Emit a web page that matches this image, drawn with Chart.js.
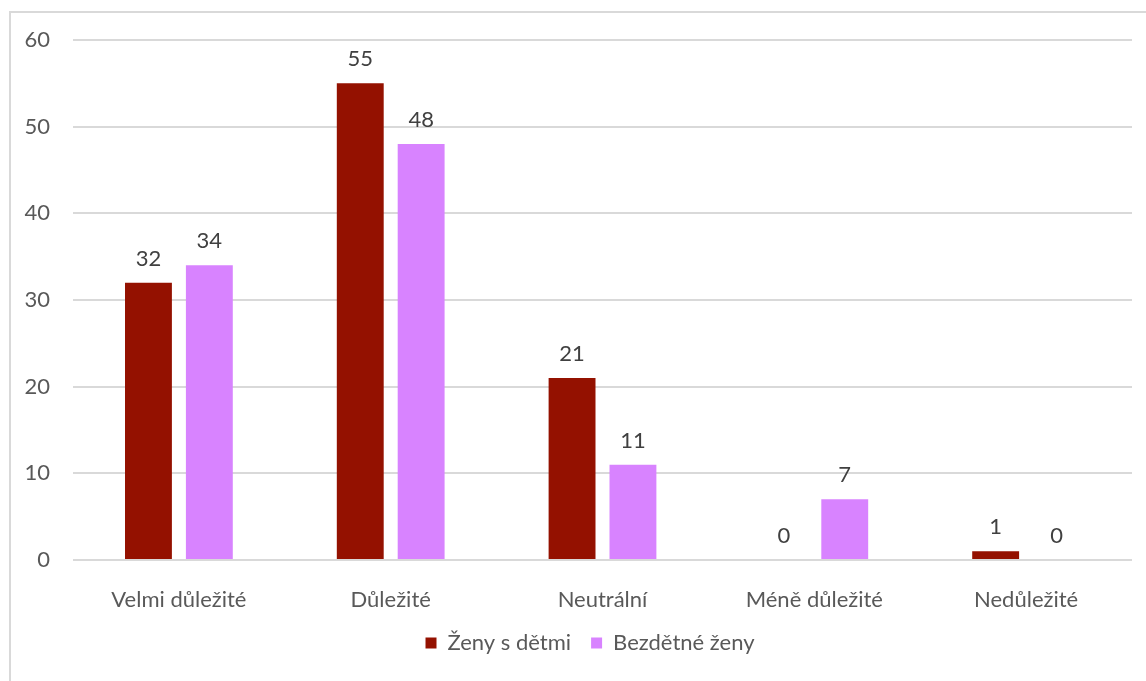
<!DOCTYPE html>
<html>
<head>
<meta charset="utf-8">
<script src="https://cdn.jsdelivr.net/npm/chart.js@4"></script>
<style>
  html, body { margin: 0; padding: 0; background: #fff; }
  #wrap { position: relative; width: 1146px; height: 681px; }
</style>
</head>
<body>
<div id="wrap"><canvas id="myChart"></canvas></div>
<script>
const categories = ['Velmi důležité', 'Důležité', 'Neutrální', 'Méně důležité', 'Nedůležité'];
const seriesNames = ['Ženy s dětmi', 'Bezdětné ženy'];
const withChildren = [32, 55, 21, 0, 1];
const childless = [34, 48, 11, 7, 0];
const yTicks = [0, 10, 20, 30, 40, 50, 60];

const FONT = 'Lato, "Open Sans", sans-serif';
const FONT_SIZE = 22;

// outer frame of the chart object
const frame = {
    id: 'frame',
    beforeDraw(chart) {
        const c = chart.ctx;
        c.save();
        c.strokeStyle = '#d9d9d9';
        c.lineWidth = 2;
        c.strokeRect(10, 12, chart.width + 20, chart.height + 20);
        c.restore();
    }
};

// nudge the legend a bit to the right of the canvas centre
const legendShift = {
    id: 'legendShift',
    afterLayout(chart) {
        if (chart.legend) {
            chart.legend.left += 24;
            chart.legend.right += 24;
        }
    }
};

// value written above each bar
const valueLabels = {
    id: 'valueLabels',
    afterDatasetsDraw(chart) {
        const c = chart.ctx;
        c.save();
        c.font = FONT_SIZE + 'px ' + FONT;
        c.fillStyle = '#404040';
        c.textAlign = 'center';
        c.textBaseline = 'alphabetic';
        chart.data.datasets.forEach((ds, i) => {
            chart.getDatasetMeta(i).data.forEach((bar, j) => {
                c.fillText(String(ds.data[j]), bar.x, bar.y - 17);
            });
        });
        c.restore();
    }
};

function CreateChart() {
    const ctx = document.getElementById('myChart');
    new Chart(ctx, {
        type: 'bar',
        data: {
            labels: categories,
            datasets: [{
                label: seriesNames[0],
                data: withChildren,
                backgroundColor: '#941100'
            }, {
                label: seriesNames[1],
                data: childless,
                backgroundColor: '#d883ff'
            }]
        },
        options: {
            responsive: true,
            maintainAspectRatio: false,
            animation: false,
            categoryPercentage: 0.575,
            barPercentage: 0.77,
            layout: {
                padding: { top: 40, right: 14, bottom: 17, left: 0 }
            },
            scales: {
                y: {
                    min: 0,
                    max: 60,
                    afterFit: s => { s.width = 73; },
                    afterBuildTicks: s => { s.ticks = yTicks.map(v => ({ value: v })); },
                    border: { display: false },
                    grid: { color: '#d9d9d9', lineWidth: 2, drawTicks: false },
                    ticks: {
                        padding: 23,
                        color: '#595959',
                        font: { family: FONT, size: FONT_SIZE }
                    }
                },
                x: {
                    afterFit: s => { s.height = 52; },
                    border: { display: false },
                    grid: { display: false },
                    ticks: {
                        padding: 19,
                        color: '#595959',
                        font: { family: FONT, size: FONT_SIZE }
                    }
                }
            },
            plugins: {
                legend: {
                    position: 'bottom',
                    labels: {
                        boxWidth: 11,
                        boxHeight: 11,
                        padding: 20,
                        color: '#595959',
                        font: { family: FONT, size: FONT_SIZE }
                    }
                },
                tooltip: { enabled: false }
            }
        },
        plugins: [frame, legendShift, valueLabels]
    });
}

CreateChart();
</script>
</body>
</html>
